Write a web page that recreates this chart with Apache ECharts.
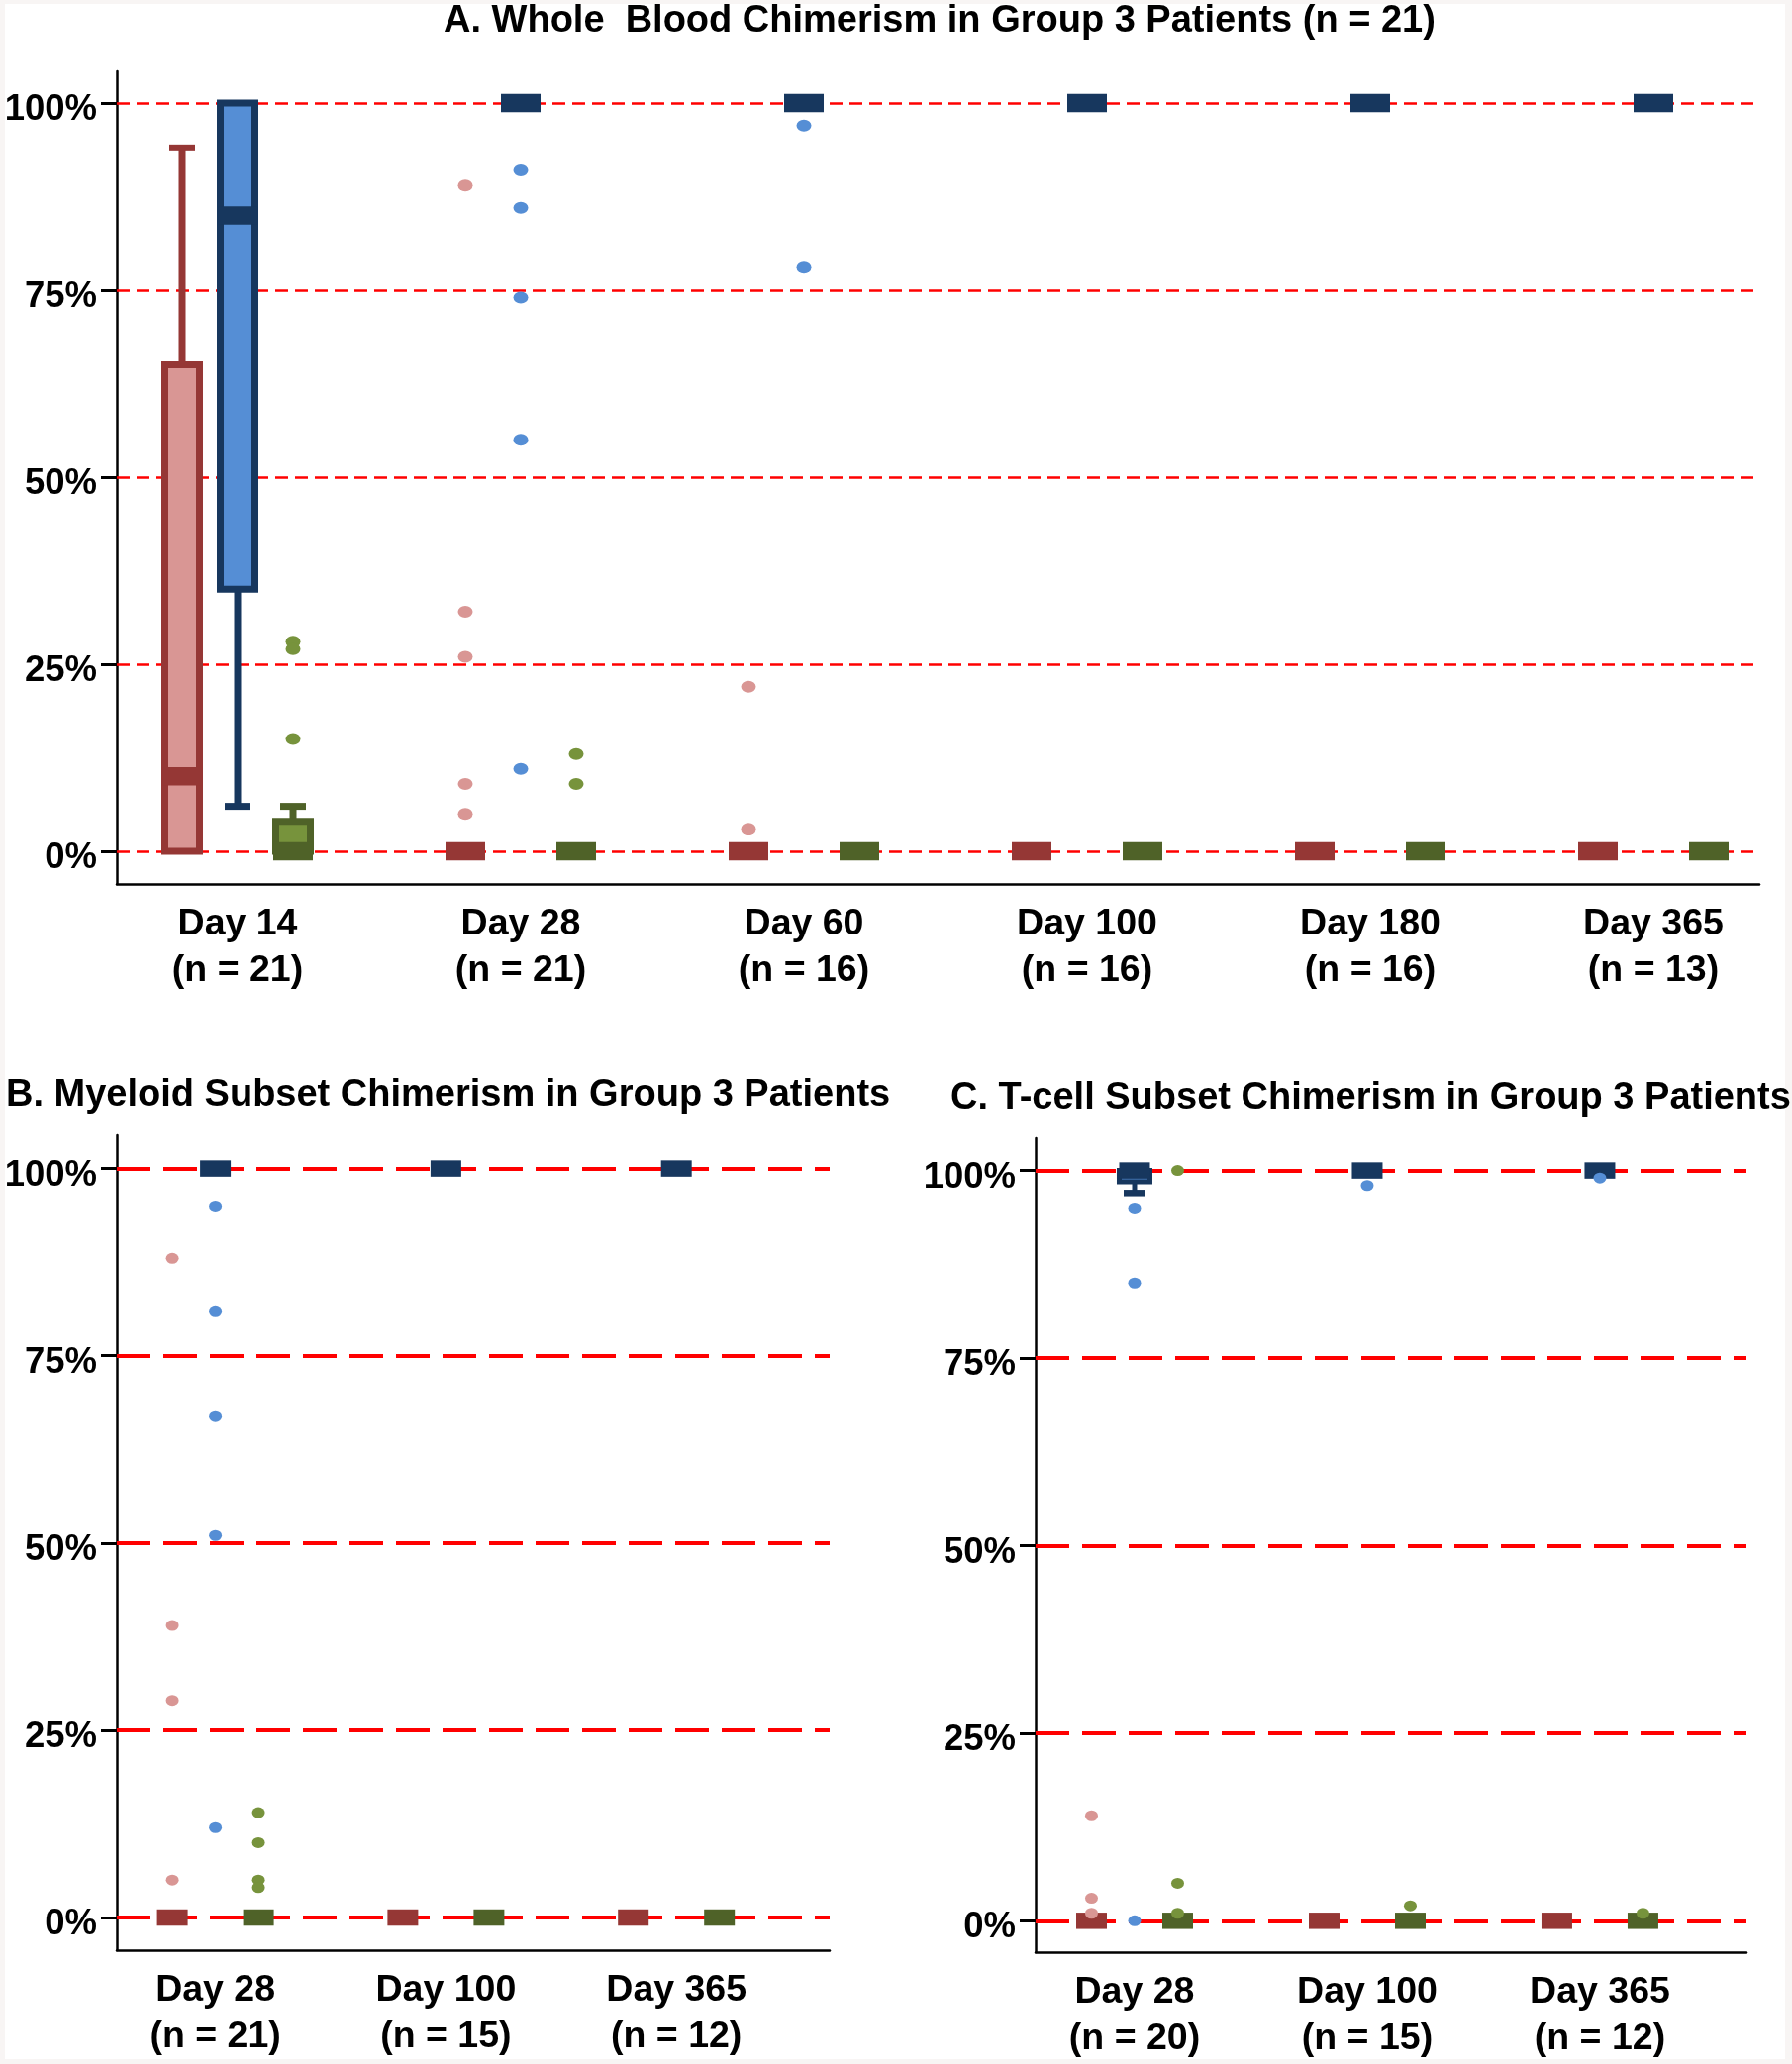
<!DOCTYPE html>
<html><head><meta charset="utf-8">
<script src="https://cdn.jsdelivr.net/npm/echarts@6/dist/echarts.min.js"></script>
<style>html,body{margin:0;padding:0;background:#f8f5f4}#c{width:1810px;height:2085px}</style>
</head><body><div id="c"></div><script>
// ---------------- data ----------------
const catsA = ['Day 14\n(n = 21)', 'Day 28\n(n = 21)', 'Day 60\n(n = 16)', 'Day 100\n(n = 16)', 'Day 180\n(n = 16)', 'Day 365\n(n = 13)'];
const catsB = ['Day 28\n(n = 21)', 'Day 100\n(n = 15)', 'Day 365\n(n = 12)'];
const catsC = ['Day 28\n(n = 20)', 'Day 100\n(n = 15)', 'Day 365\n(n = 12)'];
const yTicks = [0, 25, 50, 75, 100];
const titleA = 'A. Whole  Blood Chimerism in Group 3 Patients (n = 21)';
const titleB = 'B. Myeloid Subset Chimerism in Group 3 Patients';
const titleC = 'C. T-cell Subset Chimerism in Group 3 Patients';

// box statistics per category: [min, Q1, median, Q3, max]
const redBoxA   = [[0, 0, 10, 65, 94], [0, 0, 0, 0, 0], [0, 0, 0, 0, 0], [0, 0, 0, 0, 0], [0, 0, 0, 0, 0], [0, 0, 0, 0, 0]];
const blueBoxA  = [[6, 35, 85, 100, 100], [100, 100, 100, 100, 100], [100, 100, 100, 100, 100], [100, 100, 100, 100, 100], [100, 100, 100, 100, 100], [100, 100, 100, 100, 100]];
const greenBoxA = [[0, 0, 0, 4, 6], [0, 0, 0, 0, 0], [0, 0, 0, 0, 0], [0, 0, 0, 0, 0], [0, 0, 0, 0, 0], [0, 0, 0, 0, 0]];
// outliers: [category number, value]
const redOutA   = [[2, 89], [2, 32], [2, 26], [2, 9], [2, 5], [3, 22], [3, 3]];
const blueOutA  = [[2, 91], [2, 86], [2, 74], [2, 55], [2, 11], [3, 97], [3, 78]];
const greenOutA = [[1, 28], [1, 27], [1, 15], [2, 13], [2, 9]];

const redBoxB   = [[0, 0, 0, 0, 0], [0, 0, 0, 0, 0], [0, 0, 0, 0, 0]];
const blueBoxB  = [[100, 100, 100, 100, 100], [100, 100, 100, 100, 100], [100, 100, 100, 100, 100]];
const greenBoxB = [[0, 0, 0, 0, 0], [0, 0, 0, 0, 0], [0, 0, 0, 0, 0]];
const redOutB   = [[1, 88], [1, 39], [1, 29], [1, 5]];
const blueOutB  = [[1, 95], [1, 81], [1, 67], [1, 51], [1, 12]];
const greenOutB = [[1, 14], [1, 10], [1, 5], [1, 4]];

const redBoxC   = [[0, 0, 0, 0, 0], [0, 0, 0, 0, 0], [0, 0, 0, 0, 0]];
const blueBoxC  = [[97, 98.5, 100, 100, 100], [100, 100, 100, 100, 100], [100, 100, 100, 100, 100]];
const greenBoxC = [[0, 0, 0, 0, 0], [0, 0, 0, 0, 0], [0, 0, 0, 0, 0]];
const redOutC   = [[1, 14], [1, 3], [1, 1]];
const blueOutC  = [[1, 95], [1, 85], [1, 0], [2, 98], [3, 99]];
const greenOutC = [[1, 100], [1, 5], [1, 1], [2, 2], [3, 1]];

// ---------------- styles ----------------
const FONT = 'Liberation Sans';
const COL = { red: '#953735', pink: '#d99694', navy: '#17375e', blue: '#558ed5', dgreen: '#4f6228', green: '#77933c' };
const dimA = { dx: 56, boxW: 35, stroke: 7, bandW: 40, bandH: 18.5, whisk: 7, capW: 26, capH: 7, dot: [15, 12] };
const dimBC = { dx: 43.5, boxW: 31, stroke: 5, bandW: 31, bandH: 16.5, whisk: 5, capW: 22, capH: 6.5, dot: [13, 11] };

function boxSeries(gi, boxes, dx, dim, dark, fill) {
  return {
    type: 'custom', xAxisIndex: gi, yAxisIndex: gi, z: 3, silent: true,
    data: boxes.map((b, i) => [i + 1].concat(b)),
    encode: { x: 0, y: [1, 2, 3, 4, 5] },
    renderItem(params, api) {
      const xv = api.value(0);
      const cx = api.coord([xv, 0])[0] + dx;
      const Y = v => api.coord([xv, v])[1];
      const mn = api.value(1), q1 = api.value(2), md = api.value(3), q3 = api.value(4), mx = api.value(5);
      const ch = [];
      const wl = (a, b) => ({ type: 'line', shape: { x1: cx, y1: a, x2: cx, y2: b }, style: { stroke: dark, lineWidth: dim.whisk } });
      const cap = y => ({ type: 'rect', shape: { x: cx - dim.capW / 2, y: y - dim.capH / 2, width: dim.capW, height: dim.capH }, style: { fill: dark } });
      if (mx > q3) ch.push(wl(Y(q3), Y(mx)), cap(Y(mx)));
      if (mn < q1) ch.push(wl(Y(q1), Y(mn)), cap(Y(mn)));
      if (q3 > q1) ch.push({ type: 'rect', shape: { x: cx - dim.boxW / 2, y: Y(q3), width: dim.boxW, height: Y(q1) - Y(q3) }, style: { fill: fill, stroke: dark, lineWidth: dim.stroke } });
      ch.push({ type: 'rect', shape: { x: cx - dim.bandW / 2, y: Y(md) - dim.bandH / 2, width: dim.bandW, height: dim.bandH }, style: { fill: dark } });
      return { type: 'group', children: ch };
    }
  };
}
function dotSeries(gi, pts, dx, dim, color) {
  return { type: 'scatter', xAxisIndex: gi, yAxisIndex: gi, z: 4, silent: true, data: pts, symbol: 'circle',
    symbolSize: dim.dot, symbolOffset: [dx, 0], itemStyle: { color: color, opacity: 1 } };
}
function gridLineSeries(gi, width, dash) {
  return { type: 'line', xAxisIndex: gi, yAxisIndex: gi, data: [], z: 1, silent: true,
    markLine: { silent: true, z: 1, symbol: ['none', 'none'], label: { show: false }, animation: false,
      lineStyle: { color: '#ff0000', width: width, type: dash, opacity: 1 },
      emphasis: { disabled: true },
      data: yTicks.map(v => ({ yAxis: v })) } };
}
function xAxisDef(gi, cats, min, max) {
  return { type: 'value', gridIndex: gi, min: min, max: max,
    axisLine: { show: true, onZero: false, lineStyle: { color: '#000', width: 2.5 } },
    axisTick: { show: false }, splitLine: { show: false },
    axisLabel: { customValues: cats.map((c, i) => i + 1), formatter: v => cats[Math.round(v) - 1] || '',
      fontFamily: FONT, fontSize: 37.5, fontWeight: 'bold', color: '#000', lineHeight: 47, margin: 17 } };
}
function yAxisDef(gi, min, max) {
  return { type: 'value', gridIndex: gi, min: min, max: max,
    axisLine: { show: true, onZero: false, lineStyle: { color: '#000', width: 2.5 } },
    axisTick: { show: true, customValues: yTicks, length: 16, lineStyle: { color: '#000', width: 3 } },
    splitLine: { show: false },
    axisLabel: { customValues: yTicks, formatter: v => v + '%', fontFamily: FONT, fontSize: 36.5, fontWeight: 'bold',
      color: '#000', margin: 20, verticalAlign: 'top', lineHeight: 14 } };
}
const tStyle = { fontFamily: FONT, fontSize: 38, fontWeight: 'bold', color: '#000' };

const option = {
  backgroundColor: '#f8f5f4',
  animation: false,
  graphic: [{ type: 'rect', silent: true, z: -10, shape: { x: 5, y: 4, width: 1798, height: 2076 }, style: { fill: '#ffffff' } }],
  title: [
    { text: titleA, left: 448, top: 3, padding: 0, textStyle: tStyle },
    { text: titleB, left: 6, top: 1088, padding: 0, textStyle: tStyle },
    { text: titleC, left: 960, top: 1091, padding: 0, textStyle: tStyle }
  ],
  grid: [
    { left: 118, top: 72, width: 1659, height: 821 },
    { left: 118, top: 1147, width: 720, height: 823 },
    { left: 1046, top: 1150, width: 718, height: 822 }
  ],
  xAxis: [xAxisDef(0, catsA, 0.5734, 6.3741), xAxisDef(1, catsB, 0.5722, 3.665), xAxisDef(2, catsC, 0.5745, 3.630)],
  yAxis: [yAxisDef(0, -4.37, 104.23), yAxisDef(1, -4.36, 104.44), yAxisDef(2, -4.18, 104.30)],
  series: [
    gridLineSeries(0, 2.5, [13, 7]),
    gridLineSeries(1, 4, [34, 13]),
    gridLineSeries(2, 4, [34, 13]),
    boxSeries(0, redBoxA, -dimA.dx, dimA, COL.red, COL.pink),
    boxSeries(0, blueBoxA, 0, dimA, COL.navy, COL.blue),
    boxSeries(0, greenBoxA, dimA.dx, dimA, COL.dgreen, COL.green),
    dotSeries(0, redOutA, -dimA.dx, dimA, COL.pink),
    dotSeries(0, blueOutA, 0, dimA, COL.blue),
    dotSeries(0, greenOutA, dimA.dx, dimA, COL.green),
    boxSeries(1, redBoxB, -dimBC.dx, dimBC, COL.red, COL.pink),
    boxSeries(1, blueBoxB, 0, dimBC, COL.navy, COL.blue),
    boxSeries(1, greenBoxB, dimBC.dx, dimBC, COL.dgreen, COL.green),
    dotSeries(1, redOutB, -dimBC.dx, dimBC, COL.pink),
    dotSeries(1, blueOutB, 0, dimBC, COL.blue),
    dotSeries(1, greenOutB, dimBC.dx, dimBC, COL.green),
    boxSeries(2, redBoxC, -dimBC.dx, dimBC, COL.red, COL.pink),
    boxSeries(2, blueBoxC, 0, dimBC, COL.navy, COL.blue),
    boxSeries(2, greenBoxC, dimBC.dx, dimBC, COL.dgreen, COL.green),
    dotSeries(2, redOutC, -dimBC.dx, dimBC, COL.pink),
    dotSeries(2, blueOutC, 0, dimBC, COL.blue),
    dotSeries(2, greenOutC, dimBC.dx, dimBC, COL.green)
  ]
};
const chart = echarts.init(document.getElementById('c'), null, { renderer: 'canvas' });
chart.setOption(option);
</script></body></html>
